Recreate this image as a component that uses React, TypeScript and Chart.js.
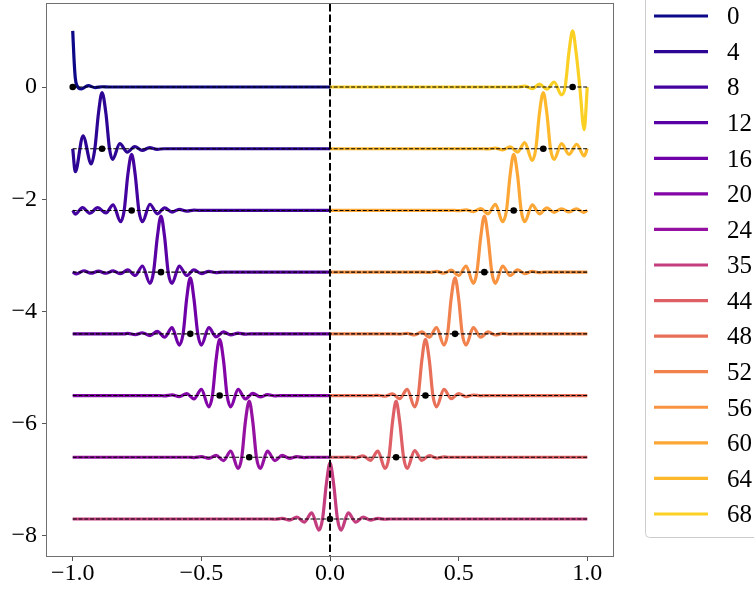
import React, { useEffect, useRef } from "react";
import { Chart, registerables } from "chart.js";

Chart.register(...registerables);

// ---------------- data ----------------
const curveKeys = [0, 4, 8, 12, 16, 20, 24, 35, 44, 48, 52, 56, 60, 64, 68];
const nodeX = [-1.0, -0.886, -0.771, -0.657, -0.543, -0.429, -0.314, 0.0, 0.257, 0.371, 0.486, 0.6, 0.714, 0.829, 0.943];
const offsets = [0, -1.1, -2.2, -3.3, -4.4, -5.5, -6.6, -7.7, -6.6, -5.5, -4.4, -3.3, -2.2, -1.1, 0];
const levels = [0, -1.1, -2.2, -3.3, -4.4, -5.5, -6.6, -7.7];
const colors = [
  "#0d0887", "#2d0594", "#44039e", "#5901a5", "#6f00a8", "#8305a7", "#9511a1",
  "#c43e7f", "#de5f65", "#e87059", "#f1814d", "#f89441", "#fca636", "#feb82c", "#fbd024",
];

type P = [number, number];
const curve0: P[] = [
  [-1.0, 1.0], [-0.995, 0.5], [-0.99, 0.16], [-0.984, 0.03], [-0.967, -0.035], [-0.94, 0.025],
  [-0.913, -0.01], [-0.885, 0.005], [-0.86, 0], [0, 0],
];
const curve4: P[] = [
  [-1.0, 0], [-0.99, -0.41], [-0.96, 0.23], [-0.928, -0.27], [-0.914, 0], [-0.9, 0.63], [-0.886, 1.0],
  [-0.871, 0.63], [-0.857, 0], [-0.845, -0.19], [-0.817, 0.09], [-0.788, -0.06], [-0.759, 0.04],
  [-0.73, -0.03], [-0.701, 0.02], [-0.672, -0.01], [-0.645, 0], [0, 0],
];
const curve8: P[] = [
  [-1.0, 0], [-0.99, -0.065], [-0.962, 0.05], [-0.933, -0.05], [-0.903, 0.05], [-0.871, -0.045],
  [-0.843, 0.1], [-0.814, -0.2], [-0.8, 0], [-0.786, 0.63], [-0.771, 1.0], [-0.757, 0.63], [-0.743, 0],
  [-0.729, -0.2], [-0.7, 0.11], [-0.671, -0.06], [-0.643, 0.045], [-0.614, -0.03], [-0.586, 0.02],
  [-0.557, -0.012], [-0.529, 0.006], [-0.505, 0], [0, 0],
];
const curve12: P[] = [
  [-1.0, 0], [-0.986, -0.03], [-0.957, 0.025], [-0.929, -0.02], [-0.9, 0.018], [-0.871, -0.02],
  [-0.843, 0.022], [-0.814, -0.028], [-0.786, 0.04], [-0.757, -0.06], [-0.729, 0.11], [-0.7, -0.2],
  [-0.686, 0], [-0.671, 0.63], [-0.657, 1.0], [-0.643, 0.63], [-0.629, 0], [-0.614, -0.2], [-0.586, 0.11],
  [-0.557, -0.06], [-0.529, 0.04], [-0.5, -0.025], [-0.471, 0.015], [-0.443, -0.008], [-0.42, 0], [0, 0],
];
const curve16: P[] = [
  [-1.0, 0], [-0.8, 0], [-0.786, 0.008], [-0.757, -0.012], [-0.729, 0.02], [-0.7, -0.03], [-0.671, 0.045],
  [-0.643, -0.06], [-0.614, 0.11], [-0.586, -0.2], [-0.571, 0], [-0.557, 0.63], [-0.543, 1.0], [-0.529, 0.63],
  [-0.514, 0], [-0.5, -0.2], [-0.471, 0.11], [-0.443, -0.055], [-0.414, 0.035], [-0.386, -0.02],
  [-0.357, 0.012], [-0.329, -0.006], [-0.31, 0], [0, 0],
];
const curve20: P[] = [
  [-1.0, 0], [-0.66, 0], [-0.643, -0.006], [-0.614, 0.012], [-0.586, -0.02], [-0.557, 0.035], [-0.529, -0.06],
  [-0.5, 0.11], [-0.471, -0.2], [-0.457, 0], [-0.443, 0.63], [-0.429, 1.0], [-0.414, 0.63], [-0.4, 0],
  [-0.386, -0.2], [-0.357, 0.11], [-0.329, -0.06], [-0.3, 0.04], [-0.271, -0.025], [-0.243, 0.015],
  [-0.214, -0.006], [-0.195, 0], [0, 0],
];
const curve24: P[] = [
  [-1.0, 0], [-0.545, 0], [-0.529, -0.005], [-0.5, 0.01], [-0.471, -0.02], [-0.443, 0.035], [-0.414, -0.06],
  [-0.386, 0.11], [-0.357, -0.2], [-0.343, 0], [-0.329, 0.63], [-0.314, 1.0], [-0.3, 0.63], [-0.286, 0],
  [-0.271, -0.2], [-0.243, 0.11], [-0.214, -0.06], [-0.186, 0.035], [-0.157, -0.02], [-0.129, 0.01],
  [-0.1, -0.005], [-0.08, 0], [0, 0],
];
const curve35: P[] = [
  [-1.0, 0], [-0.23, 0], [-0.214, -0.005], [-0.186, 0.01], [-0.157, -0.02], [-0.129, 0.035], [-0.1, -0.055],
  [-0.071, 0.11], [-0.043, -0.2], [-0.029, 0], [-0.014, 0.63], [0.0, 1.0], [0.014, 0.63], [0.029, 0],
  [0.043, -0.2], [0.071, 0.11], [0.1, -0.055], [0.129, 0.035], [0.157, -0.02], [0.186, 0.01],
  [0.214, -0.005], [0.23, 0], [1.0, 0],
];
const curve44: P[] = [
  [0.0, 0], [0.06, 0], [0.071, 0.005], [0.1, -0.01], [0.129, 0.025], [0.157, -0.055], [0.186, 0.11],
  [0.214, -0.2], [0.229, 0], [0.243, 0.63], [0.257, 1.0], [0.271, 0.63], [0.286, 0], [0.3, -0.2],
  [0.329, 0.12], [0.357, -0.055], [0.386, 0.03], [0.414, -0.015], [0.443, 0.008], [0.46, 0], [1.0, 0],
];
const curve48: P[] = [
  [0.0, 0], [0.17, 0], [0.186, 0.005], [0.214, -0.012], [0.243, 0.03], [0.271, -0.055], [0.3, 0.11],
  [0.329, -0.2], [0.343, 0], [0.357, 0.63], [0.371, 1.0], [0.386, 0.63], [0.4, 0], [0.414, -0.2],
  [0.443, 0.11], [0.471, -0.055], [0.5, 0.035], [0.529, -0.02], [0.557, 0.01], [0.586, -0.005], [0.605, 0], [1.0, 0],
];
const curve52: P[] = [
  [0.0, 0], [0.255, 0], [0.271, -0.005], [0.3, 0.01], [0.329, -0.02], [0.357, 0.035], [0.386, -0.06],
  [0.414, 0.11], [0.443, -0.2], [0.457, 0], [0.471, 0.63], [0.486, 1.0], [0.5, 0.63], [0.514, 0],
  [0.529, -0.2], [0.557, 0.11], [0.586, -0.06], [0.614, 0.035], [0.643, -0.02], [0.671, 0.01],
  [0.7, -0.005], [0.72, 0], [1.0, 0],
];
const curve56: P[] = [
  [0.0, 0], [0.37, 0], [0.386, -0.005], [0.414, 0.012], [0.443, -0.02], [0.471, 0.035], [0.5, -0.06],
  [0.529, 0.11], [0.557, -0.2], [0.571, 0], [0.586, 0.63], [0.6, 1.0], [0.614, 0.63], [0.629, 0],
  [0.643, -0.2], [0.671, 0.11], [0.7, -0.06], [0.729, 0.04], [0.757, -0.025], [0.786, 0.015],
  [0.814, -0.008], [0.835, 0], [1.0, 0],
];
const curve60: P[] = [
  [0.0, 0], [0.485, 0], [0.5, -0.005], [0.529, 0.01], [0.557, -0.02], [0.586, 0.035], [0.614, -0.06],
  [0.643, 0.11], [0.671, -0.2], [0.686, 0], [0.7, 0.63], [0.714, 1.0], [0.729, 0.63], [0.743, 0],
  [0.757, -0.2], [0.786, 0.1], [0.814, -0.06], [0.843, 0.045], [0.871, -0.035], [0.9, 0.03],
  [0.929, -0.028], [0.957, 0.03], [0.986, -0.035], [1.0, 0],
];
const curve64: P[] = [
  [0.0, 0], [0.6, 0], [0.614, -0.005], [0.643, 0.012], [0.671, -0.02], [0.7, 0.035], [0.729, -0.06],
  [0.757, 0.11], [0.786, -0.21], [0.8, 0], [0.814, 0.63], [0.829, 1.0], [0.843, 0.63], [0.857, 0],
  [0.871, -0.19], [0.9, 0.09], [0.929, -0.1], [0.959, 0.08], [0.988, -0.13], [1.0, 0],
];
const curve68: P[] = [
  [0.0, 0], [0.73, 0], [0.757, 0.015], [0.786, -0.03], [0.814, 0.05], [0.843, -0.04], [0.871, 0.09],
  [0.9, -0.14], [0.914, 0], [0.929, 0.63], [0.943, 1.0], [0.957, 0.6], [0.971, 0], [0.988, -0.76], [1.0, 0],
];
const curves = [curve0, curve4, curve8, curve12, curve16, curve20, curve24, curve35,
  curve44, curve48, curve52, curve56, curve60, curve64, curve68];

const baselineSpan = [-1, 1];
const vlineX = 0;
const xTickValues = [-1, -0.5, 0, 0.5, 1];
const xTickLabels = ["\u22121.0", "\u22120.5", "0.0", "0.5", "1.0"];
const yTickValues = [-8, -6, -4, -2, 0];
const yTickLabels = ["\u22128", "\u22126", "\u22124", "\u22122", "0"];
const xLimits = [-1.1, 1.1];
const yLimits = [-8.36, 1.48];

const FONT = "'Liberation Serif', 'DejaVu Serif', serif";

export default function App() {
  const ref = useRef<HTMLCanvasElement | null>(null);

  useEffect(() => {
    document.body.style.margin = "0";
    const canvas = ref.current;
    if (!canvas) return;

    const curveSets = curves.map((c, i) => ({
      label: String(curveKeys[i]),
      data: c.map(([x, r]) => ({ x, y: offsets[i] + r })),
      borderColor: colors[i],
      backgroundColor: colors[i],
      borderWidth: 3.2,
      pointRadius: 0,
      cubicInterpolationMode: "monotone" as const,
      borderJoinStyle: "round" as const,
      fill: false,
      order: 1000 - i,
    }));
    const baseSets = levels.map((lv, j) => ({
      label: "_base" + j,
      data: baselineSpan.map((x) => ({ x, y: lv })),
      borderColor: "#000000",
      borderWidth: 1.1,
      borderDash: [4, 1.8],
      pointRadius: 0,
      fill: false,
      order: 500 - j,
    }));
    const dotSet = {
      label: "_dots",
      data: nodeX.map((x, i) => ({ x, y: offsets[i] })),
      showLine: false,
      pointRadius: 3.3,
      pointBackgroundColor: "#000000",
      pointBorderWidth: 0,
      borderColor: "#000000",
      order: 10,
    };

    const overlay = {
      id: "overlay",
      afterDatasetsDraw(chart: any) {
        const { ctx, chartArea } = chart;
        const px = chart.scales.x.getPixelForValue(vlineX);
        ctx.save();
        ctx.strokeStyle = "#000";
        ctx.lineWidth = 2;
        ctx.setLineDash([7.4, 3.2]);
        ctx.beginPath();
        ctx.moveTo(px, chartArea.top);
        ctx.lineTo(px, chartArea.bottom);
        ctx.stroke();
        ctx.setLineDash([]);
        ctx.strokeStyle = "#707070";
        ctx.lineWidth = 1;
        ctx.strokeRect(
          Math.round(chartArea.left) - 0.5,
          Math.round(chartArea.top) - 0.5,
          Math.round(chartArea.right - chartArea.left) + 1,
          Math.round(chartArea.bottom - chartArea.top) + 1
        );
        ctx.restore();
      },
    };

    const legendPlugin = {
      id: "customLegend",
      afterDraw(chart: any) {
        const { ctx } = chart;
        ctx.save();
        ctx.beginPath();
        const bx = 645.5, by = -6, bw = 150, bh = 543.5, r = 4;
        ctx.moveTo(bx + r, by);
        ctx.lineTo(bx + bw - r, by);
        ctx.lineTo(bx + bw, by + bh);
        ctx.lineTo(bx + r, by + bh);
        ctx.arcTo(bx, by + bh, bx, by + bh - r, r);
        ctx.lineTo(bx, by + r);
        ctx.arcTo(bx, by, bx + r, by, r);
        ctx.closePath();
        ctx.fillStyle = "rgba(255,255,255,0.9)";
        ctx.fill();
        ctx.strokeStyle = "#cccccc";
        ctx.lineWidth = 1;
        ctx.stroke();
        const items = chart.data.datasets.slice(0, curveKeys.length);
        ctx.font = `25px ${FONT}`;
        ctx.textBaseline = "alphabetic";
        ctx.textAlign = "left";
        items.forEach((ds: any, i: number) => {
          const y = 16 + i * 35.57;
          ctx.strokeStyle = ds.borderColor;
          ctx.lineWidth = 3.2;
          ctx.beginPath();
          ctx.moveTo(654, y);
          ctx.lineTo(708, y);
          ctx.stroke();
          ctx.fillStyle = "#000";
          ctx.fillText(ds.label, 727, y + 8.3);
        });
        ctx.restore();
      },
    };

    const chart = new Chart(canvas, {
      type: "line",
      data: { datasets: [...curveSets, ...baseSets, dotSet] as any },
      options: {
        responsive: false,
        animation: false,
        events: [],
        layout: { padding: { top: 3, right: 141, left: 0, bottom: 0 } },
        plugins: { legend: { display: false }, tooltip: { enabled: false } },
        scales: {
          x: {
            type: "linear",
            min: xLimits[0],
            max: xLimits[1],
            afterBuildTicks: (s: any) => {
              s.ticks = xTickValues.map((v) => ({ value: v }));
            },
            afterFit: (s: any) => {
              s.height = 35;
              s.paddingLeft = 0;
              s.paddingRight = 0;
            },
            ticks: {
              autoSkip: false,
              maxRotation: 0,
              padding: -2,
              color: "#000",
              font: { family: FONT, size: 24 },
              callback: (v: any) => {
                const i = xTickValues.indexOf(Number(v));
                return i >= 0 ? xTickLabels[i] : "";
              },
            },
            grid: { drawOnChartArea: false, drawTicks: true, tickLength: 5, color: "#555" },
            border: { display: false },
          },
          y: {
            type: "linear",
            min: yLimits[0],
            max: yLimits[1],
            afterBuildTicks: (s: any) => {
              s.ticks = yTickValues.map((v) => ({ value: v }));
            },
            afterFit: (s: any) => {
              s.width = 47;
              s.paddingTop = 0;
              s.paddingBottom = 0;
            },
            ticks: {
              autoSkip: false,
              padding: 5,
              color: "#000",
              font: { family: FONT, size: 24 },
              callback: (v: any) => {
                const i = yTickValues.indexOf(Number(v));
                return i >= 0 ? yTickLabels[i] : "";
              },
            },
            grid: { drawOnChartArea: false, drawTicks: true, tickLength: 5, color: "#555" },
            border: { display: false },
          },
        },
      },
      plugins: [overlay, legendPlugin],
    });
    return () => chart.destroy();
  }, []);

  return (
    <div style={{ width: 754, height: 591 }}>
      <canvas ref={ref} width={754} height={591} style={{ display: "block" }} />
    </div>
  );
}
